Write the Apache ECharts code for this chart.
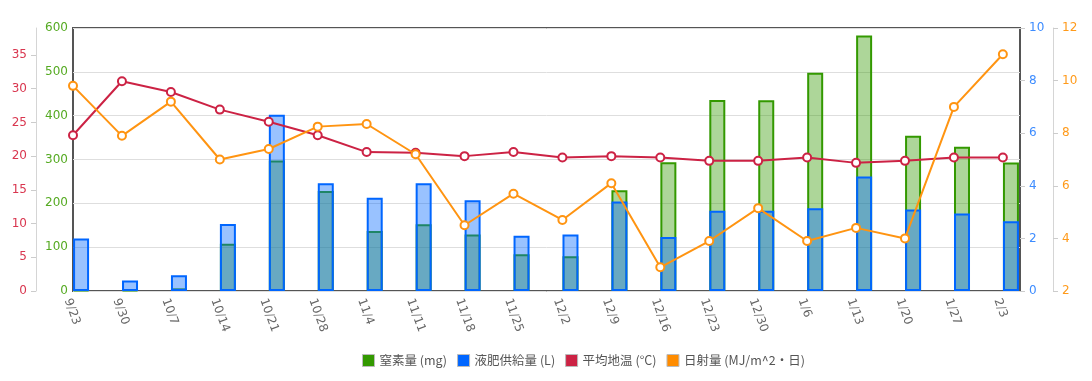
<!DOCTYPE html>
<html><head><meta charset="utf-8">
<script src="https://cdn.jsdelivr.net/npm/echarts@6/dist/echarts.min.js"></script>
<style>html,body{margin:0;padding:0;background:#fff}#c{width:1092px;height:381px}</style>
</head><body><div id="c"></div>
<script>
const categories = ['9/23','9/30','10/7','10/14','10/21','10/28','11/4','11/11','11/18','11/25','12/2','12/9','12/16','12/23','12/30','1/6','1/13','1/20','1/27','2/3'];
const nitrogen = [2, 2, 6, 108, 298, 228, 137, 152, 129, 84, 79, 230, 294, 436, 435, 498, 583, 354, 329, 293];
const liquidFert = [2.0, 0.4, 0.6, 2.55, 6.7, 4.1, 3.55, 4.1, 3.45, 2.1, 2.15, 3.4, 2.05, 3.05, 3.05, 3.15, 4.35, 3.1, 2.95, 2.65];
const soilTemp = [23.1, 31.1, 29.5, 26.9, 25.1, 23.1, 20.6, 20.5, 20.0, 20.6, 19.8, 20.0, 19.8, 19.3, 19.3, 19.8, 19.0, 19.3, 19.8, 19.8];
const solar = [9.8, 7.9, 9.2, 7.0, 7.4, 8.25, 8.35, 7.2, 4.5, 5.7, 4.7, 6.1, 2.9, 3.9, 5.15, 3.9, 4.4, 4.0, 9.0, 11.0];
const redTicks = [0, 5, 10, 15, 20, 25, 30, 35];
const names = ['窒素量 (mg)', '液肥供給量 (L)', '平均地温 (°C)', '日射量 (MJ/m^2・日)'];

const C_GREEN = '#339900', C_BLUE = '#0066ff', C_RED = '#cc2244', C_ORANGE = '#ff9411';
const FONT = 'DejaVu Sans';
const xMax = categories.length - 1 + 0.35;
const barShift = 0.165;
const pts = arr => arr.map((v, i) => [i, v]);

const chart = echarts.init(document.getElementById('c'), null, {renderer: 'canvas'});
chart.setOption({
  animation: false,
  backgroundColor: '#fff',
  textStyle: {fontFamily: FONT},
  grid: {left: 73, right: 72, top: 28, bottom: 90, show: true, borderColor: '#555', borderWidth: 2, backgroundColor: 'transparent'},
  legend: {
    top: 349, left: 357, itemWidth: 12, itemHeight: 12, itemGap: 10, icon: 'rect',
    textStyle: {color: '#555', fontSize: 12.5, fontFamily: 'Noto Sans CJK JP'},
    itemStyle: {borderColor: '#bbb', borderWidth: 1},
    data: [
      {name: names[0], itemStyle: {color: C_GREEN}},
      {name: names[1], itemStyle: {color: C_BLUE}},
      {name: names[2], itemStyle: {color: C_RED}},
      {name: names[3], itemStyle: {color: '#ff8c00'}}
    ]
  },
  xAxis: [
    {type: 'value', min: 0, max: xMax, interval: 1, axisLine: {show: false, onZero: false}, axisTick: {show: false}, splitLine: {show: false},
     axisLabel: {rotate: -70, color: '#666', fontSize: 12, margin: 6, verticalAlign: 'top', showMaxLabel: false,
       formatter: v => (Number.isInteger(v) && categories[v]) ? categories[v] : ''}},
    {type: 'value', min: -barShift, max: xMax - barShift, show: false, axisLine: {onZero: false}}
  ],
  yAxis: [
    {type: 'value', position: 'left', offset: 0, min: 0, max: 600, interval: 100,
     axisLine: {show: false, onZero: false}, axisTick: {show: false},
     axisLabel: {color: '#55aa22', fontSize: 12, margin: 5},
     splitLine: {show: true, lineStyle: {color: '#dedede', width: 1}}},
    {type: 'value', position: 'right', offset: 0, min: 0, max: 10, interval: 2,
     axisLine: {show: false, onZero: false}, axisTick: {show: true, length: 5, lineStyle: {color: '#cccccc'}},
     axisLabel: {color: '#3d8cff', fontSize: 12, margin: 9}, splitLine: {show: false}},
    {type: 'value', position: 'left', offset: 37, min: 0, max: 39, interval: 5,
     axisLine: {show: true, onZero: false, lineStyle: {color: '#d5d5d5'}},
     axisTick: {show: true, length: 5, lineStyle: {color: '#cccccc'}, customValues: redTicks},
     axisLabel: {color: '#d9364f', fontSize: 12, margin: 9, customValues: redTicks, formatter: v => redTicks.includes(v) ? String(v) : ''},
     splitLine: {show: false}},
    {type: 'value', position: 'right', offset: 33, min: 2, max: 12, interval: 2,
     axisLine: {show: true, onZero: false, lineStyle: {color: '#d5d5d5'}},
     axisTick: {show: true, length: 5, lineStyle: {color: '#cccccc'}},
     axisLabel: {color: '#ff9a1a', fontSize: 12, margin: 9}, splitLine: {show: false}}
  ],
  series: [
    {name: names[0], type: 'bar', xAxisIndex: 1, yAxisIndex: 0, data: pts(nitrogen), barWidth: 16, barGap: '-100%', z: 2,
     itemStyle: {color: 'rgba(51,153,0,0.4)', borderColor: C_GREEN, borderWidth: 2}},
    {name: names[1], type: 'bar', xAxisIndex: 1, yAxisIndex: 1, data: pts(liquidFert), barWidth: 16, barGap: '-100%', z: 3,
     itemStyle: {color: 'rgba(0,102,255,0.4)', borderColor: C_BLUE, borderWidth: 2}},
    {name: names[2], type: 'line', xAxisIndex: 0, yAxisIndex: 2, data: pts(soilTemp), z: 5,
     symbol: 'circle', symbolSize: 8, showAllSymbol: true,
     lineStyle: {color: C_RED, width: 2}, itemStyle: {color: '#fff', borderColor: C_RED, borderWidth: 2}},
    {name: names[3], type: 'line', xAxisIndex: 0, yAxisIndex: 3, data: pts(solar), z: 6,
     symbol: 'circle', symbolSize: 8, showAllSymbol: true,
     lineStyle: {color: C_ORANGE, width: 2}, itemStyle: {color: '#fff', borderColor: C_ORANGE, borderWidth: 2}}
  ]
});
</script></body></html>
